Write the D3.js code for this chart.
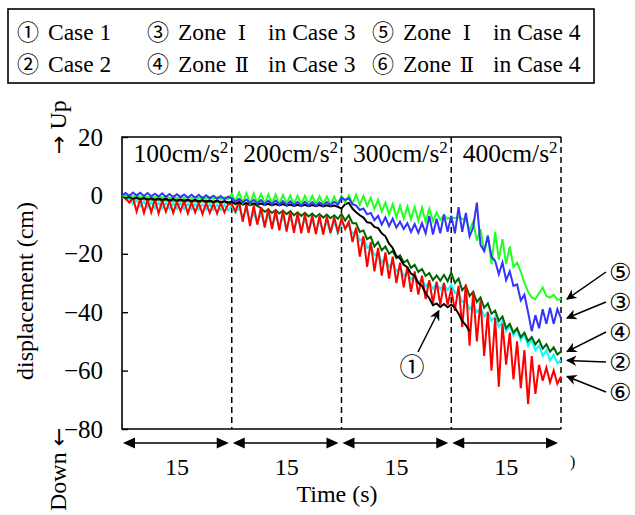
<!DOCTYPE html>
<html>
<head>
<meta charset="utf-8">
<script src="https://cdn.jsdelivr.net/npm/d3@7"></script>
<style>
  body { margin: 0; background: #fff; }
  svg { display: block; }
</style>
</head>
<body>
<svg id="chart" width="635" height="515"></svg>
<script>
// ---- data -------------------------------------------------------------
// samples every 0.5 s; each stage of shaking lasts 15 s
const sampleStep = 0.5;
const stageLevels = ["100", "200", "300", "400"];   // input acceleration, cm/s²
const stageDurations = [15, 15, 15, 15];            // seconds
const yTicks = [20, 0, -20, -40, -60, -80];

// ① Case 1 (record ends at 47.5 s)
const case1 = [
  0, -0.8, -0.4, -1.0, -0.6, -1.2, -0.8, -1.3, -0.9, -1.4, -1.0, -1.5, -1.1, -1.6, -1.2, -1.7, -1.3, -1.8, -1.4, -1.9, -1.5, -2.0, -1.6, -2.1, -1.7, -2.2, -1.8, -2.3, -1.9, -2.4,
  -2.2, -2.8, -2.4, -3.0, -2.6, -3.1, -2.7, -3.2, -2.8, -3.3, -2.9, -3.4, -3.0, -3.4, -3.0, -3.5, -3.1, -3.6, -3.2, -3.6, -3.2, -3.7, -3.3, -3.7, -3.3, -3.8, -3.4, -3.8, -3.5, -3.9,
  -4.5, -3.0, -2.6, -4.5, -5.8, -6.8, -7.6, -9.2, -9.4, -10.8, -11.2, -13.0, -14.0, -16.5, -18.0, -20.8, -21.6, -23.8, -24.6, -26.8, -27.6, -30.0, -31.0, -33.5, -35.2, -37.6, -37.0, -38.2, -37.2, -38.3,
  -37.4, -38.5, -40.5, -43.0, -44.5, -46.5
];
// ② Case 2
const case2 = [
  0, -1.5, -1.0, -3.0, -1.6, -3.8, -2.0, -4.2, -2.2, -4.4, -2.4, -4.5, -2.5, -4.6, -2.6, -4.6, -2.6, -4.7, -2.8, -4.8, -2.8, -4.8, -3.0, -4.9, -3.0, -5.0, -3.1, -5.0, -3.2, -5.1,
  -3.5, -6.0, -4.2, -7.5, -5.0, -8.5, -5.8, -9.5, -6.2, -10.0, -6.5, -10.4, -6.8, -10.8, -7.0, -11.2, -7.4, -11.5, -7.8, -11.8, -8.0, -12.2, -8.4, -12.4, -8.6, -12.6, -8.8, -12.8, -9.0, -12.8,
  -9.5, -11.0, -10.5, -13.0, -12.5, -15.5, -14.5, -18.0, -17.0, -20.5, -19.5, -23.0, -21.5, -24.5, -23.0, -26.0, -24.8, -27.5, -26.2, -28.8, -27.4, -30.0, -28.6, -31.2, -29.6, -32.0, -30.2, -32.2, -30.4, -32.4,
  -30.6, -33.4, -33.5, -36.5, -36.0, -39.0, -37.5, -40.0, -38.5, -41.5, -40.0, -43.0, -41.5, -45.0, -43.0, -46.5, -44.5, -48.0, -46.0, -49.5, -47.5, -51.5, -49.5, -53.0, -51.5, -55.0, -53.0, -56.5, -54.5, -57.5,
  -56.5
];
// ③ Zone I in Case 3
const zone1Case3 = [
  0, 0.8, -0.2, 1.0, 0.0, 0.9, -0.2, 0.8, -0.3, 0.6, -0.4, 0.7, -0.5, 0.5, -0.6, 0.4, -0.6, 0.3, -0.8, 0.2, -0.8, 0.2, -1.0, 0.0, -1.0, -0.1, -1.2, -0.2, -1.3, -0.4,
  -1.0, -2.2, -1.2, -2.4, -1.4, -2.6, -1.5, -2.8, -1.6, -3.0, -1.8, -3.0, -1.8, -3.2, -2.0, -3.4, -2.0, -3.4, -2.2, -3.6, -2.2, -3.5, -2.3, -3.6, -2.4, -3.5, -2.3, -3.4, -2.2, -3.2,
  -0.8, -1.5, -1.0, -3.0, -3.5, -5.0, -4.5, -6.5, -6.0, -8.5, -7.0, -10.0, -7.5, -10.5, -8.0, -11.0, -9.0, -11.5, -9.5, -12.5, -9.8, -12.8, -9.5, -13.0, -7.0, -13.4, -8.0, -13.0, -6.5, -12.5,
  -7.0, -13.0, -4.0, -12.5, -6.0, -14.0, -11.0, -2.5, -17.0, -19.0, -14.0, -21.0, -22.5, -27.0, -23.0, -29.0, -26.0, -31.0, -30.5, -36.0, -34.0, -40.0, -46.5, -41.0, -45.5, -39.0, -44.0, -38.5, -44.0, -39.0,
  -42.0
];
// ④ Zone II in Case 3
const zone2Case3 = [
  0, -0.8, -0.6, -1.4, -0.8, -1.6, -1.0, -1.8, -1.2, -2.0, -1.3, -2.1, -1.4, -2.2, -1.5, -2.2, -1.6, -2.3, -1.7, -2.4, -1.8, -2.5, -1.9, -2.5, -2.0, -2.6, -2.0, -2.7, -2.1, -2.8,
  -2.4, -3.0, -2.6, -3.2, -2.8, -3.4, -3.0, -3.6, -4.4, -5.6, -4.8, -6.0, -5.0, -6.2, -5.2, -6.4, -5.4, -6.8, -5.8, -7.0, -6.0, -7.2, -6.2, -7.4, -6.4, -7.6, -6.6, -7.8, -6.8, -8.0,
  -6.4, -8.6, -6.8, -9.5, -9.5, -12.5, -12.0, -15.0, -14.2, -17.5, -16.0, -18.8, -17.5, -20.0, -19.0, -21.5, -20.5, -23.0, -22.2, -24.8, -23.8, -26.2, -25.2, -27.6, -26.6, -29.0, -27.4, -29.2, -27.2, -29.4,
  -26.5, -30.0, -28.5, -32.5, -31.0, -34.5, -33.0, -36.5, -35.0, -38.5, -37.0, -40.5, -39.5, -43.0, -41.5, -45.5, -44.0, -47.0, -45.5, -48.5, -47.0, -50.0, -48.5, -51.0, -49.5, -52.5, -51.0, -53.5, -52.0, -54.5,
  -53.5
];
// ⑤ Zone I in Case 4
const zone1Case4 = [
  0, -0.3, 0.2, -0.5, 0.0, -0.6, -0.1, -0.7, -0.2, -0.8, -0.2, -0.8, -0.3, -0.9, -0.3, -1.0, -0.4, -1.0, -0.4, -1.1, -0.5, -1.1, -0.5, -1.2, -0.6, -1.2, -0.6, -1.3, -0.7, -1.3,
  0.5, -2.0, 1.0, -2.5, 0.8, -2.8, 0.6, -2.6, 0.5, -2.8, 0.4, -2.9, 0.3, -3.0, 0.2, -2.8, 0.0, -3.0, -0.1, -3.0, -0.2, -2.9, -0.2, -3.1, -0.3, -3.0, -0.4, -3.2, -0.5, -3.0,
  -0.2, -2.5, 0.0, -2.8, 0.2, -3.2, -0.2, -3.6, -0.8, -4.6, -1.5, -5.5, -2.5, -6.5, -3.0, -7.5, -3.5, -7.8, -3.8, -8.2, -4.0, -8.6, -4.2, -9.0, -4.6, -8.8, -5.8, -8.4, -6.8, -8.0,
  -7.4, -7.8, -7.5, -8.0, -8.4, -12.0, -9.0, -15.5, -11.5, -19.5, -13.5, -23.5, -12.5, -22.0, -15.0, -23.5, -17.5, -24.5, -23.0, -26.0, -30.0, -33.0, -35.0, -35.5, -33.5, -31.5, -34.5, -35.0, -34.0, -35.8,
  -35.5
];
// ⑥ Zone II in Case 4
const zone2Case4 = [
  0, -1.0, -2.5, -0.8, -5.5, -1.2, -6.0, -1.5, -5.8, -1.4, -6.2, -1.8, -5.6, -2.0, -6.0, -2.2, -5.4, -2.0, -6.2, -2.4, -5.8, -2.5, -6.4, -2.6, -6.0, -2.8, -6.2, -2.6, -5.8, -3.0,
  -3.0, -5.5, -2.2, -9.0, -3.0, -10.5, -3.5, -10.0, -4.0, -11.0, -4.5, -11.5, -5.0, -12.0, -5.2, -12.4, -5.6, -12.8, -6.0, -13.0, -6.4, -12.8, -6.8, -13.2, -7.0, -13.4, -7.2, -12.8, -7.5, -12.5,
  -8.0, -11.5, -9.0, -16.0, -11.0, -21.0, -14.0, -24.5, -16.0, -26.0, -18.0, -27.5, -19.5, -28.5, -21.0, -30.0, -23.0, -31.5, -24.5, -33.0, -26.0, -34.0, -27.5, -35.5, -29.0, -37.0, -29.5, -37.5, -30.0, -37.5,
  -32.0, -39.5, -31.0, -45.0, -30.5, -51.5, -33.0, -50.0, -36.0, -55.0, -40.0, -60.0, -42.0, -65.5, -44.0, -58.0, -47.0, -63.0, -50.0, -66.0, -53.0, -71.5, -55.0, -68.0, -58.0, -63.5, -59.0, -64.0, -60.0, -64.5,
  -62.0
];

// ---- series styling (draw order: first is drawn underneath) ----------
const series = [
  { mark: "②", values: case2,      color: "#00ffff" },
  { mark: "④", values: zone2Case3, color: "#006400" },
  { mark: "⑥", values: zone2Case4, color: "#ff0000" },
  { mark: "①", values: case1,      color: "#000000" },
  { mark: "⑤", values: zone1Case4, color: "#22ff22" },
  { mark: "③", values: zone1Case3, color: "#3333ff" }
];

// ---- layout -----------------------------------------------------------
const serif = "'Liberation Serif', 'Times New Roman', serif";
const circCJK = "'Noto Sans CJK JP', 'DejaVu Sans', sans-serif";
const circCompact = "'DejaVu Sans', 'Noto Sans CJK JP', sans-serif";
const plot = { left: 122, right: 561, top: 137, bottom: 429 };

const svg = d3.select("#chart");
const totalTime = d3.sum(stageDurations);
const stageStarts = Array.from(d3.cumsum([0, ...stageDurations])).slice(0, stageDurations.length);

const x = d3.scaleLinear().domain([0, totalTime]).range([plot.left, plot.right]);
const y = d3.scaleLinear().domain([-80, 20]).range([plot.bottom, plot.top]);

// ---- legend box -------------------------------------------------------
const legend = svg.append("g");
legend.append("rect")
  .attr("x", 8).attr("y", 9).attr("width", 586).attr("height", 74)
  .attr("fill", "none").attr("stroke", "#000").attr("stroke-width", 1.6);

const legendRows = [
  [ { c: "①", parts: [["Case 1", 0]] },
    { c: "③", parts: [["Zone", 0], ["Ⅰ", 1], ["in Case 3", 2]] },
    { c: "⑤", parts: [["Zone", 0], ["Ⅰ", 1], ["in Case 4", 2]] } ],
  [ { c: "②", parts: [["Case 2", 0]] },
    { c: "④", parts: [["Zone", 0], ["Ⅱ", 1], ["in Case 3", 2]] },
    { c: "⑥", parts: [["Zone", 0], ["Ⅱ", 1], ["in Case 4", 2]] } ]
];
const legendCols = [17, 147, 372];
const rowBaselines = [40, 72];
legendRows.forEach((row, r) => {
  row.forEach((entry, c) => {
    const x0 = legendCols[c];
    const by = rowBaselines[r];
    legend.append("text").attr("x", x0).attr("y", by)
      .attr("font-family", circCJK).attr("font-size", 22)
      .text(entry.c);
    const offsets = [31, 95, 121];
    entry.parts.forEach(([txt, k]) => {
      const t = legend.append("text").attr("y", by).attr("font-size", 23.5)
        .attr("font-family", k === 1 ? "'DejaVu Serif', " + serif : serif)
        .text(txt);
      if (k === 1) t.attr("x", x0 + offsets[1]).attr("text-anchor", "middle").attr("font-size", 21);
      else t.attr("x", x0 + offsets[k]);
    });
  });
});

// ---- plot frame, stage separators --------------------------------------
const frame = svg.append("g").attr("stroke", "#000").attr("fill", "none");
frame.append("path")
  .attr("d", `M${plot.right},${plot.top}H${plot.left}V${plot.bottom}H${plot.right}`)
  .attr("stroke-width", 1.6);
stageStarts.slice(1).concat([totalTime]).forEach(t => {
  frame.append("line")
    .attr("x1", x(t)).attr("x2", x(t))
    .attr("y1", plot.top).attr("y2", plot.bottom)
    .attr("stroke-width", 1.5).attr("stroke-dasharray", "6,4");
});

// y axis with inward ticks
const yAxis = d3.axisLeft(y).tickValues(yTicks).tickSize(-6).tickPadding(19);
const gy = svg.append("g").attr("transform", `translate(${plot.left},0)`).call(yAxis);
gy.select(".domain").remove();
gy.selectAll(".tick line").attr("stroke", "#000").attr("stroke-width", 1.4);
gy.selectAll(".tick text")
  .attr("font-family", serif).attr("font-size", 25).attr("fill", "#000");

// ---- series lines -----------------------------------------------------
const line = d3.line()
  .x((d, i) => x(i * sampleStep))
  .y(d => y(d));
svg.append("g").selectAll("path")
  .data(series).join("path")
  .attr("d", d => line(d.values))
  .attr("fill", "none")
  .attr("stroke", d => d.color)
  .attr("stroke-width", 2)
  .attr("stroke-linejoin", "miter");

// ---- stage labels ------------------------------------------------------
stageLevels.forEach((lvl, i) => {
  const cx = x(stageStarts[i] + stageDurations[i] / 2) + 4;
  const t = svg.append("text")
    .attr("x", cx).attr("y", 162)
    .attr("text-anchor", "middle")
    .attr("font-family", serif).attr("font-size", 25.5);
  t.append("tspan").text(lvl + "cm/s");
  t.append("tspan").attr("font-size", 17).attr("dy", -9).text("2");
});

// ---- axis titles --------------------------------------------------------
svg.append("text")
  .attr("transform", "translate(33,291) rotate(-90)")
  .attr("text-anchor", "middle")
  .attr("font-family", serif).attr("font-size", 24)
  .text("displacement (cm)");
const upLabel = svg.append("text")
  .attr("transform", "translate(66,154) rotate(-90)")
  .attr("text-anchor", "start")
  .attr("font-family", serif).attr("font-size", 24);
upLabel.append("tspan").attr("font-family", "'DejaVu Sans', sans-serif").attr("font-size", 22).text("→");
upLabel.append("tspan").text(" Up");
const downLabel = svg.append("text")
  .attr("transform", "translate(66,511) rotate(-90)")
  .attr("text-anchor", "start")
  .attr("font-family", serif).attr("font-size", 24);
downLabel.append("tspan").text("Down ");
downLabel.append("tspan").attr("font-family", "'DejaVu Sans', sans-serif").attr("font-size", 22).text("←");

// ---- stage duration arrows ----------------------------------------------
const arrowY = 443;
const headL = 12, headH = 5.5;
const durG = svg.append("g");
stageDurations.forEach((dur, i) => {
  const xa = x(stageStarts[i]) + 1;
  const xb = x(stageStarts[i] + dur) - 3;
  durG.append("line")
    .attr("x1", xa + 4).attr("x2", xb - 4)
    .attr("y1", arrowY).attr("y2", arrowY)
    .attr("stroke", "#000").attr("stroke-width", 1.6);
  durG.append("path")
    .attr("d", `M${xa},${arrowY}L${xa + headL},${arrowY - headH}L${xa + headL},${arrowY + headH}Z`)
    .attr("fill", "#000");
  durG.append("path")
    .attr("d", `M${xb},${arrowY}L${xb - headL},${arrowY - headH}L${xb - headL},${arrowY + headH}Z`)
    .attr("fill", "#000");
  durG.append("text")
    .attr("x", x(stageStarts[i] + dur / 2)).attr("y", 475)
    .attr("text-anchor", "middle")
    .attr("font-family", serif).attr("font-size", 24)
    .text(dur);
});
svg.append("text")
  .attr("x", 337).attr("y", 502)
  .attr("text-anchor", "middle")
  .attr("font-family", serif).attr("font-size", 24)
  .text("Time (s)");
svg.append("text")
  .attr("x", 570).attr("y", 467)
  .attr("font-family", serif).attr("font-size", 16)
  .text(")");

// ---- end-of-record callouts ----------------------------------------------
const defs = svg.append("defs");
defs.append("marker")
  .attr("id", "head").attr("viewBox", "0 0 10 10")
  .attr("refX", 9).attr("refY", 5)
  .attr("markerWidth", 7).attr("markerHeight", 7)
  .attr("orient", "auto")
  .append("path").attr("d", "M0,0L10,5L0,10L3,5Z").attr("fill", "#000");

const byMark = Object.fromEntries(series.map(s => [s.mark, s]));
const rightLabels = [
  { mark: "⑤", labelY: 272 },
  { mark: "③", labelY: 302 },
  { mark: "④", labelY: 332 },
  { mark: "②", labelY: 362 },
  { mark: "⑥", labelY: 392 }
];
rightLabels.forEach(d => {
  const vals = byMark[d.mark].values;
  const tipY = y(vals[vals.length - 1]);
  svg.append("line")
    .attr("x1", 606).attr("y1", d.labelY)
    .attr("x2", plot.right + 6).attr("y2", tipY)
    .attr("stroke", "#000").attr("stroke-width", 1.5)
    .attr("marker-end", "url(#head)");
  svg.append("text")
    .attr("x", 609).attr("y", d.labelY).attr("dy", "0.36em")
    .attr("font-family", circCompact).attr("font-size", 25)
    .text(d.mark);
});

// ① callout pointing at the end of the Case 1 plateau
svg.append("line")
  .attr("x1", 418).attr("y1", 352)
  .attr("x2", x(43.3)).attr("y2", y(-39.5))
  .attr("stroke", "#000").attr("stroke-width", 1.5)
  .attr("marker-end", "url(#head)");
svg.append("text")
  .attr("x", 412).attr("y", 367).attr("dy", "0.36em")
  .attr("text-anchor", "middle")
  .attr("font-family", circCJK).attr("font-size", 25)
  .text("①");
</script>
</body>
</html>
